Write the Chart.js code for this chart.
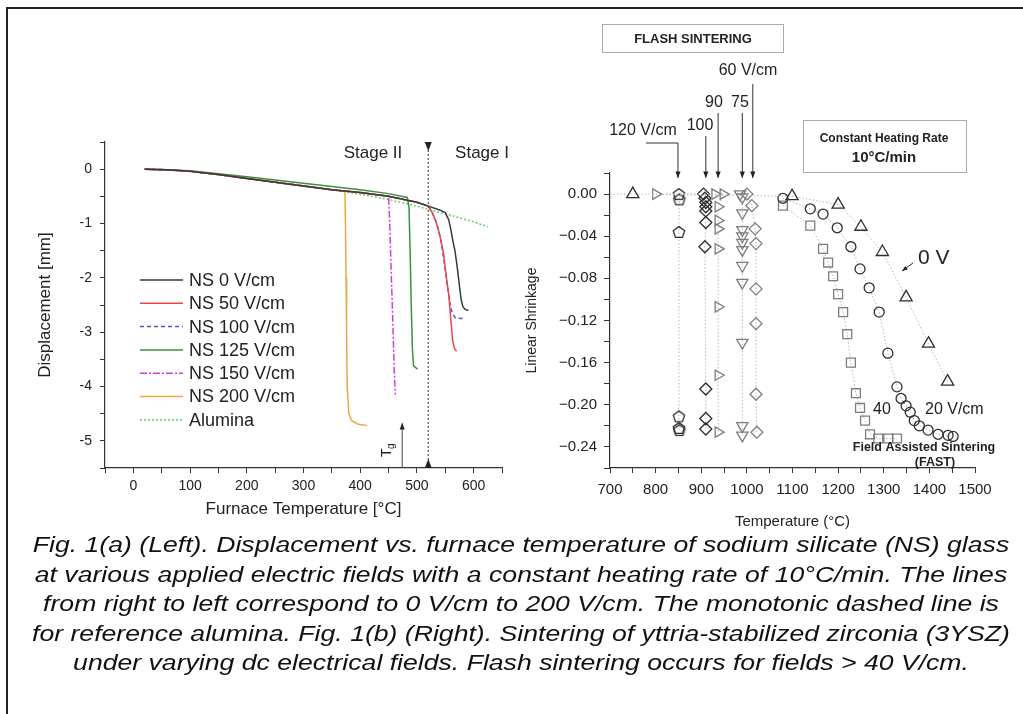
<!DOCTYPE html>
<html>
<head>
<meta charset="utf-8">
<title>Flash sintering figure</title>
<script src="https://cdn.jsdelivr.net/npm/chart.js@4.4.1/dist/chart.umd.min.js"></script>
<style>
  body { margin: 0; background: #fff; }
  #page { position: relative; width: 1023px; height: 714px; overflow: hidden; background: #fff; }
  .frameTop { position: absolute; left: 6px; top: 7px; width: 1017px; height: 2px; background: #222; }
  .frameLeft { position: absolute; left: 6px; top: 7px; width: 2px; height: 707px; background: #222; }
  #leftChart { position: absolute; left: 0; top: 100px; }
  #rightChart { position: absolute; left: 520px; top: 0; }
  .caption {
    position: absolute; left: 20px; top: 530px; width: 1002px;
    text-align: center; font-family: "Liberation Sans", Arial, sans-serif;
    font-style: italic; font-size: 22px; line-height: 29.6px; color: #111;
    transform: scaleX(1.21); transform-origin: 50% 50%;
  }
</style>
</head>
<body>
<div id="page">
  <div class="frameTop"></div>
  <div class="frameLeft"></div>
  <canvas id="leftChart" width="520" height="430"></canvas>
  <canvas id="rightChart" width="503" height="545"></canvas>
  <div class="caption">
    Fig. 1(a) (Left). Displacement vs. furnace temperature of sodium silicate (NS) glass<br>
    at various applied electric fields with a constant heating rate of 10°C/min. The lines<br>
    from right to left correspond to 0 V/cm to 200 V/cm. The monotonic dashed line is<br>
    for reference alumina. Fig. 1(b) (Right). Sintering of yttria-stabilized zirconia (3YSZ)<br>
    under varying dc electrical fields. Flash sintering occurs for fields &gt; 40 V/cm.
  </div>
</div>

<script>
// ---------- Fig. 1(a): displacement [mm] vs furnace temperature [°C] ----------
// common path before the drop (shared by most NS runs)
const baseT = [20, 60, 100, 150, 200, 250, 300, 350, 400, 450, 500, 520];
const baseD = [0, -0.01, -0.04, -0.1, -0.17, -0.24, -0.31, -0.38, -0.43, -0.5, -0.61, -0.68];

const ns0TailT = [540, 550, 556, 560, 563, 567, 571, 575, 578, 581, 585, 591];
const ns0TailD = [-0.75, -0.8, -0.93, -1.12, -1.3, -1.5, -1.8, -2.15, -2.4, -2.53, -2.58, -2.6];
const ns50TailT = [527, 533, 540, 547, 552, 556, 560, 563, 566, 570];
const ns50TailD = [-0.8, -0.95, -1.2, -1.55, -2.0, -2.3, -2.8, -3.15, -3.3, -3.35];
const ns100TailT = [527, 535, 542, 548, 553, 558, 562, 568, 585];
const ns100TailD = [-0.8, -1.0, -1.3, -1.7, -2.1, -2.45, -2.65, -2.74, -2.75];
const ns125T = [20, 100, 200, 300, 400, 450, 483, 486, 488, 490, 492, 494, 501];
const ns125D = [0, -0.03, -0.14, -0.26, -0.38, -0.45, -0.52, -0.7, -1.5, -2.5, -3.3, -3.62, -3.68];
const ns150TailT = [452, 455, 458, 460, 462];
const ns150TailD = [-1.0, -2.0, -3.0, -3.7, -4.15];
const ns200TailT = [373, 374, 375, 376, 377, 380, 385, 395, 412];
const ns200TailD = [-0.41, -1.0, -2.0, -3.0, -4.0, -4.5, -4.63, -4.69, -4.72];
const aluminaT = [20, 100, 200, 300, 400, 450, 500, 520, 560, 600, 625];
const aluminaD = [0, -0.04, -0.17, -0.3, -0.46, -0.56, -0.68, -0.74, -0.85, -0.97, -1.06];

const stageLimit = 520;   // Stage II / Stage I boundary
const tgTemp = 474;       // glass transition arrow

// ---------- Fig. 1(b): linear shrinkage vs temperature [°C] ----------
const v0T = [700, 750, 1099, 1200, 1250, 1297, 1349, 1398, 1440];
const v0S = [0, 0, -0.002, -0.01, -0.031, -0.055, -0.098, -0.142, -0.178];
const v20T = [1079, 1139, 1167, 1198, 1228, 1248, 1268, 1290, 1309, 1329, 1338, 1349, 1358, 1367, 1378, 1397, 1419, 1441, 1452];
const v20S = [-0.004, -0.014, -0.019, -0.032, -0.05, -0.071, -0.089, -0.112, -0.151, -0.183, -0.194, -0.201, -0.207, -0.215, -0.22, -0.224, -0.228, -0.229, -0.23];
const v40T = [1079, 1139, 1167, 1178, 1189, 1200, 1211, 1220, 1228, 1239, 1248, 1259, 1270, 1288, 1310, 1329];
const v40S = [-0.011, -0.03, -0.052, -0.065, -0.078, -0.095, -0.112, -0.133, -0.16, -0.189, -0.203, -0.215, -0.228, -0.232, -0.232, -0.232];
const v60T = [1000, 1011, 1018, 1020, 1020, 1020, 1020, 1022];
const v60S = [0, -0.011, -0.033, -0.047, -0.09, -0.123, -0.19, -0.226];
const v75T = [985, 990, 990, 990, 990, 990, 990, 990, 990, 990, 990, 990];
const v75S = [0, -0.003, -0.018, -0.034, -0.04, -0.046, -0.053, -0.068, -0.084, -0.141, -0.22, -0.229];
const v90T = [800, 930, 948, 937, 937, 937, 937, 937, 937, 937];
const v90S = [0, 0, 0, -0.012, -0.025, -0.033, -0.052, -0.107, -0.172, -0.226];
const v100T = [905, 908, 910, 910, 910, 910, 908, 910, 910, 910];
const v100S = [0, -0.004, -0.008, -0.012, -0.016, -0.027, -0.05, -0.185, -0.213, -0.223];
const v120T = [851, 852, 851, 851, 851, 852];
const v120S = [0, -0.005, -0.036, -0.211, -0.222, -0.224];

// flash onset labels (arrow targets on the temperature axis)
const flashLabels = ['120 V/cm', '100', '90', '75', '60 V/cm'];
const flashOnsetT = [849, 910, 937, 990, 1013];

const FONT = '"Liberation Sans", Arial, sans-serif';
Chart.defaults.font.family = FONT;
Chart.defaults.color = '#222';

function zip(T, V) {
  return T.map((t, i) => ({ x: t, y: V[i] }));
}

function withBase(upTo, tailT, tailD) {
  const n = baseT.filter(t => t <= upTo).length;
  return zip(baseT.slice(0, n).concat(tailT), baseD.slice(0, n).concat(tailD));
}

function curve(label, data, color, dash) {
  return {
    label: label, data: data, showLine: true,
    borderColor: color, borderWidth: 1.5, borderDash: dash || [],
    pointRadius: 0, fill: false
  };
}

function arrow(ctx, x1, y1, x2, y2, head) {
  const a = Math.atan2(y2 - y1, x2 - x1);
  ctx.beginPath();
  ctx.moveTo(x1, y1);
  ctx.lineTo(x2, y2);
  ctx.stroke();
  ctx.beginPath();
  ctx.moveTo(x2, y2);
  ctx.lineTo(x2 - head * Math.cos(a - 0.38), y2 - head * Math.sin(a - 0.38));
  ctx.lineTo(x2 - head * Math.cos(a + 0.38), y2 - head * Math.sin(a + 0.38));
  ctx.closePath();
  ctx.fill();
}

// stage line, Tg arrow, stage labels and legend for the left panel
const leftNotes = {
  id: 'leftNotes',
  afterDraw(chart) {
    const ctx = chart.ctx, xs = chart.scales.x, area = chart.chartArea;
    ctx.save();
    const xb = xs.getPixelForValue(stageLimit);
    ctx.strokeStyle = '#555';
    ctx.lineWidth = 1.2;
    ctx.setLineDash([2, 2]);
    ctx.beginPath();
    ctx.moveTo(xb, area.top);
    ctx.lineTo(xb, area.bottom);
    ctx.stroke();
    ctx.setLineDash([]);
    ctx.fillStyle = '#222';
    ctx.beginPath();
    ctx.moveTo(xb - 3.5, area.top); ctx.lineTo(xb + 3.5, area.top); ctx.lineTo(xb, area.top + 9);
    ctx.closePath(); ctx.fill();
    ctx.beginPath();
    ctx.moveTo(xb - 3.5, area.bottom); ctx.lineTo(xb + 3.5, area.bottom); ctx.lineTo(xb, area.bottom - 9);
    ctx.closePath(); ctx.fill();

    // Tg arrow
    const xg = xs.getPixelForValue(tgTemp);
    ctx.strokeStyle = '#444';
    ctx.lineWidth = 1;
    arrow(ctx, xg, area.bottom, xg, area.bottom - 45, 7);
    ctx.save();
    ctx.translate(xg - 15, area.bottom - 11);
    ctx.rotate(-Math.PI / 2);
    ctx.textAlign = 'left';
    ctx.textBaseline = 'middle';
    ctx.font = '14px ' + FONT;
    ctx.fillText('T', 0, 0);
    ctx.font = '10px ' + FONT;
    ctx.fillText('g', 8, 4);
    ctx.restore();

    // stage labels
    ctx.font = '17px ' + FONT;
    ctx.textAlign = 'center';
    ctx.textBaseline = 'middle';
    ctx.fillText('Stage II', 373, 53);
    ctx.fillText('Stage I', 482, 53);

    // legend
    ctx.font = '18px ' + FONT;
    ctx.textAlign = 'left';
    chart.data.datasets.forEach((ds, i) => {
      const y = 180 + i * 23.3;
      ctx.strokeStyle = ds.borderColor;
      ctx.lineWidth = 1.5;
      ctx.setLineDash(ds.borderDash);
      ctx.beginPath();
      ctx.moveTo(140, y);
      ctx.lineTo(183, y);
      ctx.stroke();
      ctx.setLineDash([]);
      ctx.fillStyle = '#222';
      ctx.fillText(ds.label, 189, y + 1);
    });
    ctx.restore();
  }
};

// boxes, onset arrows and text labels for the right panel
const rightNotes = {
  id: 'rightNotes',
  afterDraw(chart) {
    const ctx = chart.ctx, xs = chart.scales.x;
    const ox = 520;
    ctx.save();
    ctx.textAlign = 'center';
    ctx.textBaseline = 'middle';
    ctx.fillStyle = '#222';

    ctx.strokeStyle = '#aaa';
    ctx.lineWidth = 1;
    ctx.strokeRect(602 - ox + 0.5, 24.5, 181, 28);
    ctx.font = 'bold 13px ' + FONT;
    ctx.fillText('FLASH SINTERING', 693 - ox, 39);
    ctx.strokeRect(803 - ox + 0.5, 120.5, 163, 52);
    ctx.font = 'bold 12px ' + FONT;
    ctx.fillText('Constant Heating Rate', 884 - ox, 139);
    ctx.font = 'bold 15px ' + FONT;
    ctx.fillText('10\u00B0C/min', 884 - ox, 158);

    // onset arrows
    const textPos = [[643, 131], [700, 126], [714, 103], [740, 103], [748, 71]];
    const startY = [143, 136, 113, 113, 84];
    ctx.strokeStyle = '#333';
    ctx.font = '16px ' + FONT;
    flashLabels.forEach((lab, i) => {
      const x = xs.getPixelForValue(flashOnsetT[i]);
      ctx.fillText(lab, textPos[i][0] - ox, textPos[i][1]);
      if (i === 0) {
        ctx.beginPath();
        ctx.moveTo(646 - ox, startY[i]);
        ctx.lineTo(x, startY[i]);
        ctx.stroke();
      }
      arrow(ctx, x, startY[i], x, 178, 7);
    });

    ctx.font = '21px ' + FONT;
    ctx.textAlign = 'left';
    ctx.fillText('0 V', 918 - ox, 258);
    arrow(ctx, 913 - ox, 263, 902 - ox, 271, 6);

    ctx.font = '16px ' + FONT;
    ctx.textAlign = 'center';
    ctx.fillText('40', 882 - ox, 410);
    ctx.textAlign = 'left';
    ctx.fillText('20 V/cm', 925 - ox, 410);

    ctx.font = 'bold 12.5px ' + FONT;
    ctx.textAlign = 'center';
    ctx.fillText('Field Assisted Sintering', 924 - ox, 448);
    ctx.fillText('(FAST)', 935 - ox, 463);
    ctx.restore();
  }
};

// ---------- left chart ----------
new Chart(document.getElementById('leftChart'), {
  type: 'scatter',
  data: {
    datasets: [
      curve('NS 0 V/cm', withBase(520, ns0TailT, ns0TailD), '#3a3a3a'),
      curve('NS 50 V/cm', withBase(520, ns50TailT, ns50TailD), '#e8474a'),
      curve('NS 100 V/cm', withBase(520, ns100TailT, ns100TailD), '#5555cc', [4, 3]),
      curve('NS 125 V/cm', zip(ns125T, ns125D), '#3f8f3f'),
      curve('NS 150 V/cm', withBase(450, ns150TailT, ns150TailD), '#d040d0', [7, 2, 2, 2]),
      curve('NS 200 V/cm', withBase(350, ns200TailT, ns200TailD), '#e8a84a'),
      curve('Alumina', zip(aluminaT, aluminaD), '#66cc66', [2, 2])
    ]
  },
  options: {
    responsive: false,
    animation: false,
    layout: { padding: { left: 31, top: 42, right: 18, bottom: 6 } },
    plugins: { legend: { display: false }, tooltip: { enabled: false } },
    scales: {
      x: {
        type: 'linear', min: -50, max: 650,
        afterFit: s => { s.height = 56; },
        ticks: {
          stepSize: 50, autoSkip: false, maxRotation: 0, padding: 5,
          font: { size: 14 }, color: '#222',
          callback: v => (v % 100 === 0 ? String(v) : '')
        },
        grid: { drawOnChartArea: false, tickLength: 5, color: '#333' },
        border: { color: '#333', width: 1.2 },
        title: { display: true, text: 'Furnace Temperature [\u00B0C]', font: { size: 17 }, color: '#222' }
      },
      y: {
        min: -5.5, max: 0.5,
        afterFit: s => { s.width = 74; },
        ticks: {
          stepSize: 0.5, autoSkip: false, padding: 8,
          font: { size: 14 }, color: '#222',
          callback: v => (Number.isInteger(v) ? String(v) : '')
        },
        grid: { drawOnChartArea: false, tickLength: 5, color: '#333' },
        border: { color: '#333', width: 1.2 },
        title: { display: true, text: 'Displacement [mm]', font: { size: 17 }, color: '#222' }
      }
    }
  },
  plugins: [leftNotes]
});

// ---------- right chart ----------
function pentagon(r, color) {
  const c = document.createElement('canvas');
  const s = Math.ceil(2 * r + 4);
  c.width = s;
  c.height = s;
  const g = c.getContext('2d');
  g.strokeStyle = color;
  g.lineWidth = 1.3;
  g.beginPath();
  for (let k = 0; k < 5; k++) {
    const a = -Math.PI / 2 + k * 2 * Math.PI / 5;
    const px = s / 2 + r * Math.cos(a), py = s / 2 + r * Math.sin(a) + 0.6;
    if (k) g.lineTo(px, py); else g.moveTo(px, py);
  }
  g.closePath();
  g.stroke();
  return c;
}

function series(label, T, S, style) {
  return Object.assign({
    label: label, data: zip(T, S), showLine: true,
    borderColor: '#b5b5b5', borderWidth: 1, borderDash: [1.5, 2],
    pointBackgroundColor: 'rgba(0,0,0,0)', pointBorderWidth: 1.3
  }, style);
}

const dark = '#2e2e2e', grey = '#7d7d7d';

new Chart(document.getElementById('rightChart'), {
  type: 'scatter',
  data: {
    datasets: [
      series('0 V/cm', v0T, v0S, { pointStyle: 'triangle', pointBorderColor: dark, pointRadius: v0T.map((t, i) => (i === 0 ? 0 : 7)) }),
      series('20 V/cm', v20T, v20S, { pointStyle: 'circle', pointBorderColor: dark, pointRadius: 5 }),
      series('40 V/cm', v40T, v40S, { pointStyle: 'rect', pointBorderColor: grey, pointRadius: 6.3 }),
      series('60 V/cm', v60T, v60S, { pointStyle: 'rectRot', pointBorderColor: grey, pointRadius: 6 }),
      series('75 V/cm', v75T, v75S, { pointStyle: 'triangle', pointRotation: 180, pointBorderColor: grey, pointRadius: 6.5 }),
      series('90 V/cm', v90T, v90S, { pointStyle: 'triangle', pointRotation: 90, pointBorderColor: grey, pointRadius: 6 }),
      series('100 V/cm', v100T, v100S, { pointStyle: 'rectRot', pointBorderColor: dark, pointRadius: 6 }),
      series('120 V/cm', v120T, v120S, { pointStyle: pentagon(6, dark), pointRadius: 6 })
    ]
  },
  options: {
    responsive: false,
    animation: false,
    layout: { padding: { left: 0, top: 173, right: 48, bottom: 10 } },
    plugins: { legend: { display: false }, tooltip: { enabled: false } },
    scales: {
      x: {
        type: 'linear', min: 700, max: 1500,
        afterFit: s => { s.height = 67; },
        ticks: {
          stepSize: 50, autoSkip: false, maxRotation: 0, padding: 8,
          font: { size: 15 }, color: '#222',
          callback: v => (v % 100 === 0 ? String(v) : '')
        },
        grid: { drawOnChartArea: false, tickLength: 5, color: '#333' },
        border: { color: '#333', width: 1.2 },
        title: { display: true, text: 'Temperature (\u00B0C)', font: { size: 15 }, color: '#222' }
      },
      y: {
        min: -0.26, max: 0.02,
        afterFit: s => { s.width = 90; },
        ticks: {
          stepSize: 0.02, autoSkip: false, padding: 7,
          font: { size: 15 }, color: '#222',
          callback: v => {
            const k = Math.round(v * 100);
            if (k % 4 !== 0) return '';
            return k === 0 ? '0.00' : '\u2212' + (Math.abs(k) / 100).toFixed(2);
          }
        },
        grid: { drawOnChartArea: false, tickLength: 6, color: '#333' },
        border: { color: '#333', width: 1.2 },
        title: { display: true, text: 'Linear Shrinkage', font: { size: 14 }, color: '#222' }
      }
    }
  },
  plugins: [rightNotes]
});
</script>
</body>
</html>
